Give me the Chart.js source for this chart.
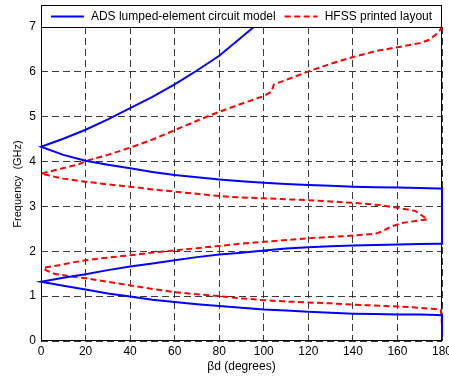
<!DOCTYPE html>
<html>
<head>
<meta charset="utf-8">
<script src="https://cdn.jsdelivr.net/npm/chart.js@4/dist/chart.umd.min.js"></script>
<style>
  html, body { margin: 0; padding: 0; background: #ffffff; }
  #wrap { width: 449px; height: 379px; }
</style>
</head>
<body>
<div id="wrap"><canvas id="c" width="449" height="379"></canvas></div>
<script>
// ---- Data ----
const xTicks = [0, 20, 40, 60, 80, 100, 120, 140, 160, 180];
const yTicks = [0, 1, 2, 3, 4, 5, 6, 7];

const seriesNames = ["ADS lumped-element circuit model", "HFSS printed layout"];

// ADS lumped-element circuit model (blue solid): beta*d in degrees, frequency in GHz
const adsBeta = [180, 180, 178, 170, 160, 150, 140, 130, 120, 110, 100, 90, 80, 70, 60, 50, 40, 30, 20, 10, 0,
  10, 20, 30, 40, 50, 60, 70, 80, 90, 100, 110, 120, 130, 140, 150, 160, 170, 178, 180, 180,
  178, 170, 160, 150, 140, 130, 120, 110, 100, 90, 80, 70, 60, 50, 40, 30, 20, 10, 0,
  10, 20, 30, 40, 50, 60, 70, 80, 90, 95.5];
const adsFreq = [0.09, 0.57, 0.58, 0.59, 0.59, 0.60, 0.61, 0.63, 0.65, 0.68, 0.70, 0.74, 0.78, 0.82, 0.87, 0.92, 0.99, 1.06, 1.15, 1.23, 1.32,
  1.41, 1.49, 1.58, 1.66, 1.73, 1.80, 1.87, 1.93, 1.97, 2.02, 2.06, 2.09, 2.11, 2.13, 2.14, 2.15, 2.16, 2.17, 2.17, 3.40,
  3.40, 3.41, 3.42, 3.43, 3.44, 3.46, 3.48, 3.50, 3.53, 3.56, 3.60, 3.65, 3.70, 3.77, 3.85, 3.93, 4.02, 4.15, 4.33,
  4.51, 4.71, 4.94, 5.19, 5.44, 5.72, 6.03, 6.36, 6.77, 7.00];

// HFSS printed layout (red dashed)
const hfssBeta = [180, 179.5, 178, 170, 160, 150, 140, 130, 120, 110, 100, 90, 80, 70, 60, 50, 40, 30, 20, 12, 6, 2.5, 1,
  3, 8, 14, 20, 30, 40, 50, 60, 70, 80, 90, 100, 110, 120, 130, 140, 150, 153, 157, 162, 166, 173.5,
  168, 160, 152, 145, 140, 130, 120, 110, 100, 90, 80, 70, 60, 50, 40, 30, 20, 10, 0,
  8, 17, 20, 30, 40, 50, 60, 70, 80, 90, 100, 103.5, 104.5, 110, 120, 130, 140, 150, 160, 170, 174, 177, 179, 180];
const hfssFreq = [0.36, 0.69, 0.71, 0.74, 0.77, 0.79, 0.81, 0.84, 0.86, 0.88, 0.91, 0.95, 1.00, 1.04, 1.09, 1.16, 1.24, 1.32, 1.40, 1.45, 1.50, 1.57, 1.63,
  1.65, 1.69, 1.75, 1.80, 1.86, 1.91, 1.97, 2.02, 2.07, 2.12, 2.17, 2.21, 2.25, 2.29, 2.32, 2.35, 2.39, 2.44, 2.55, 2.63, 2.66, 2.71,
  2.90, 2.97, 3.03, 3.06, 3.08, 3.11, 3.14, 3.16, 3.18, 3.20, 3.23, 3.28, 3.33, 3.38, 3.44, 3.49, 3.55, 3.62, 3.73,
  3.83, 3.94, 4.01, 4.15, 4.31, 4.49, 4.70, 4.91, 5.11, 5.29, 5.46, 5.56, 5.72, 5.82, 6.01, 6.18, 6.33, 6.46, 6.55, 6.64, 6.71, 6.82, 6.92, 7.00];

// ---- Build chart ----
const toPoints = (xs, ys) => xs.map((x, i) => ({ x: x, y: ys[i] }));
const FONT = "'Liberation Sans', Arial, Helvetica, sans-serif";

const frameAndLegend = {
  id: 'frameAndLegend',
  beforeDatasetsDraw(chart) {
    const ctx = chart.ctx;
    const a = chart.chartArea;
    ctx.save();
    ctx.strokeStyle = '#000';
    ctx.lineWidth = 1;
    ctx.setLineDash([]);
    ctx.strokeRect(a.left + 0.5, a.top + 0.5, a.right - a.left - 1, a.bottom - a.top - 1);
    ctx.restore();
  },
  afterDraw(chart) {
    const ctx = chart.ctx;
    const a = chart.chartArea;
    ctx.save();
    ctx.strokeStyle = '#000';
    ctx.lineWidth = 1;
    ctx.setLineDash([]);
    const top = 5, bottom = a.top;
    ctx.fillStyle = '#fff';
    ctx.fillRect(a.left + 0.5, top + 0.5, a.right - a.left - 1, bottom - top);
    ctx.strokeRect(a.left + 0.5, top + 0.5, a.right - a.left - 1, bottom - top);
    ctx.font = '12px ' + FONT;
    ctx.textBaseline = 'middle';
    ctx.textAlign = 'left';
    const lineLen = 33, gap = 7, itemGap = 9;
    const ds = chart.data.datasets;
    let total = 0;
    ds.forEach((d, i) => { total += lineLen + gap + ctx.measureText(d.label).width + (i ? itemGap : 0); });
    let x = (a.left + a.right) / 2 - total / 2;
    const cy = (top + bottom) / 2 + 0.5;
    ds.forEach((d, i) => {
      if (i) x += itemGap;
      ctx.strokeStyle = d.borderColor;
      ctx.lineWidth = d.borderWidth;
      ctx.setLineDash(d.borderDash || []);
      ctx.beginPath();
      ctx.moveTo(x, cy);
      ctx.lineTo(x + lineLen, cy);
      ctx.stroke();
      x += lineLen + gap;
      ctx.fillStyle = '#000';
      ctx.fillText(d.label, x, cy);
      x += ctx.measureText(d.label).width;
    });
    ctx.restore();
  }
};

new Chart(document.getElementById('c'), {
  type: 'scatter',
  data: {
    datasets: [
      {
        label: seriesNames[0],
        data: toPoints(adsBeta, adsFreq),
        showLine: true,
        borderColor: '#0000ff',
        backgroundColor: '#0000ff',
        borderWidth: 2,
        pointRadius: 0,
        tension: 0,
        clip: false
      },
      {
        label: seriesNames[1],
        data: toPoints(hfssBeta, hfssFreq),
        showLine: true,
        borderColor: '#ff0000',
        backgroundColor: '#ff0000',
        borderWidth: 2,
        borderDash: [6, 3.5],
        pointRadius: 0,
        tension: 0,
        clip: false
      }
    ]
  },
  options: {
    responsive: false,
    animation: false,
    devicePixelRatio: 1,
    layout: { padding: { left: 0, right: 7, top: 27, bottom: 0 } },
    plugins: {
      legend: { display: false },
      tooltip: { enabled: false }
    },
    scales: {
      x: {
        type: 'linear',
        min: 0, max: 180,
        afterBuildTicks(scale) { scale.ticks = xTicks.map(v => ({ value: v })); },
        afterFit(scale) { scale.height = 38; scale.paddingLeft = 0; scale.paddingRight = 0; },
        ticks: { color: '#000', font: { family: FONT, size: 12 }, padding: 3, maxRotation: 0, autoSkip: false },
        grid: { color: '#3a3a3a', lineWidth: 1, drawTicks: false },
        border: { display: false, dash: [7, 4] },
        title: { display: true, text: 'βd (degrees)', color: '#000', font: { family: FONT, size: 12 }, padding: { top: 0, bottom: 5 } }
      },
      y: {
        type: 'linear',
        min: 0, max: 7,
        afterBuildTicks(scale) { scale.ticks = yTicks.map(v => ({ value: v })); },
        afterFit(scale) { scale.width = 41; scale.paddingTop = 0; scale.paddingBottom = 0; },
        ticks: { color: '#000', font: { family: FONT, size: 12 }, padding: 5, autoSkip: false },
        grid: { color: '#3a3a3a', lineWidth: 1, drawTicks: false },
        border: { display: false, dash: [7, 4] },
        title: { display: true, text: 'Frequency  (GHz)', color: '#000', font: { family: FONT, size: 11 }, padding: { top: 11, bottom: 0 } }
      }
    }
  },
  plugins: [frameAndLegend]
});
</script>
</body>
</html>
